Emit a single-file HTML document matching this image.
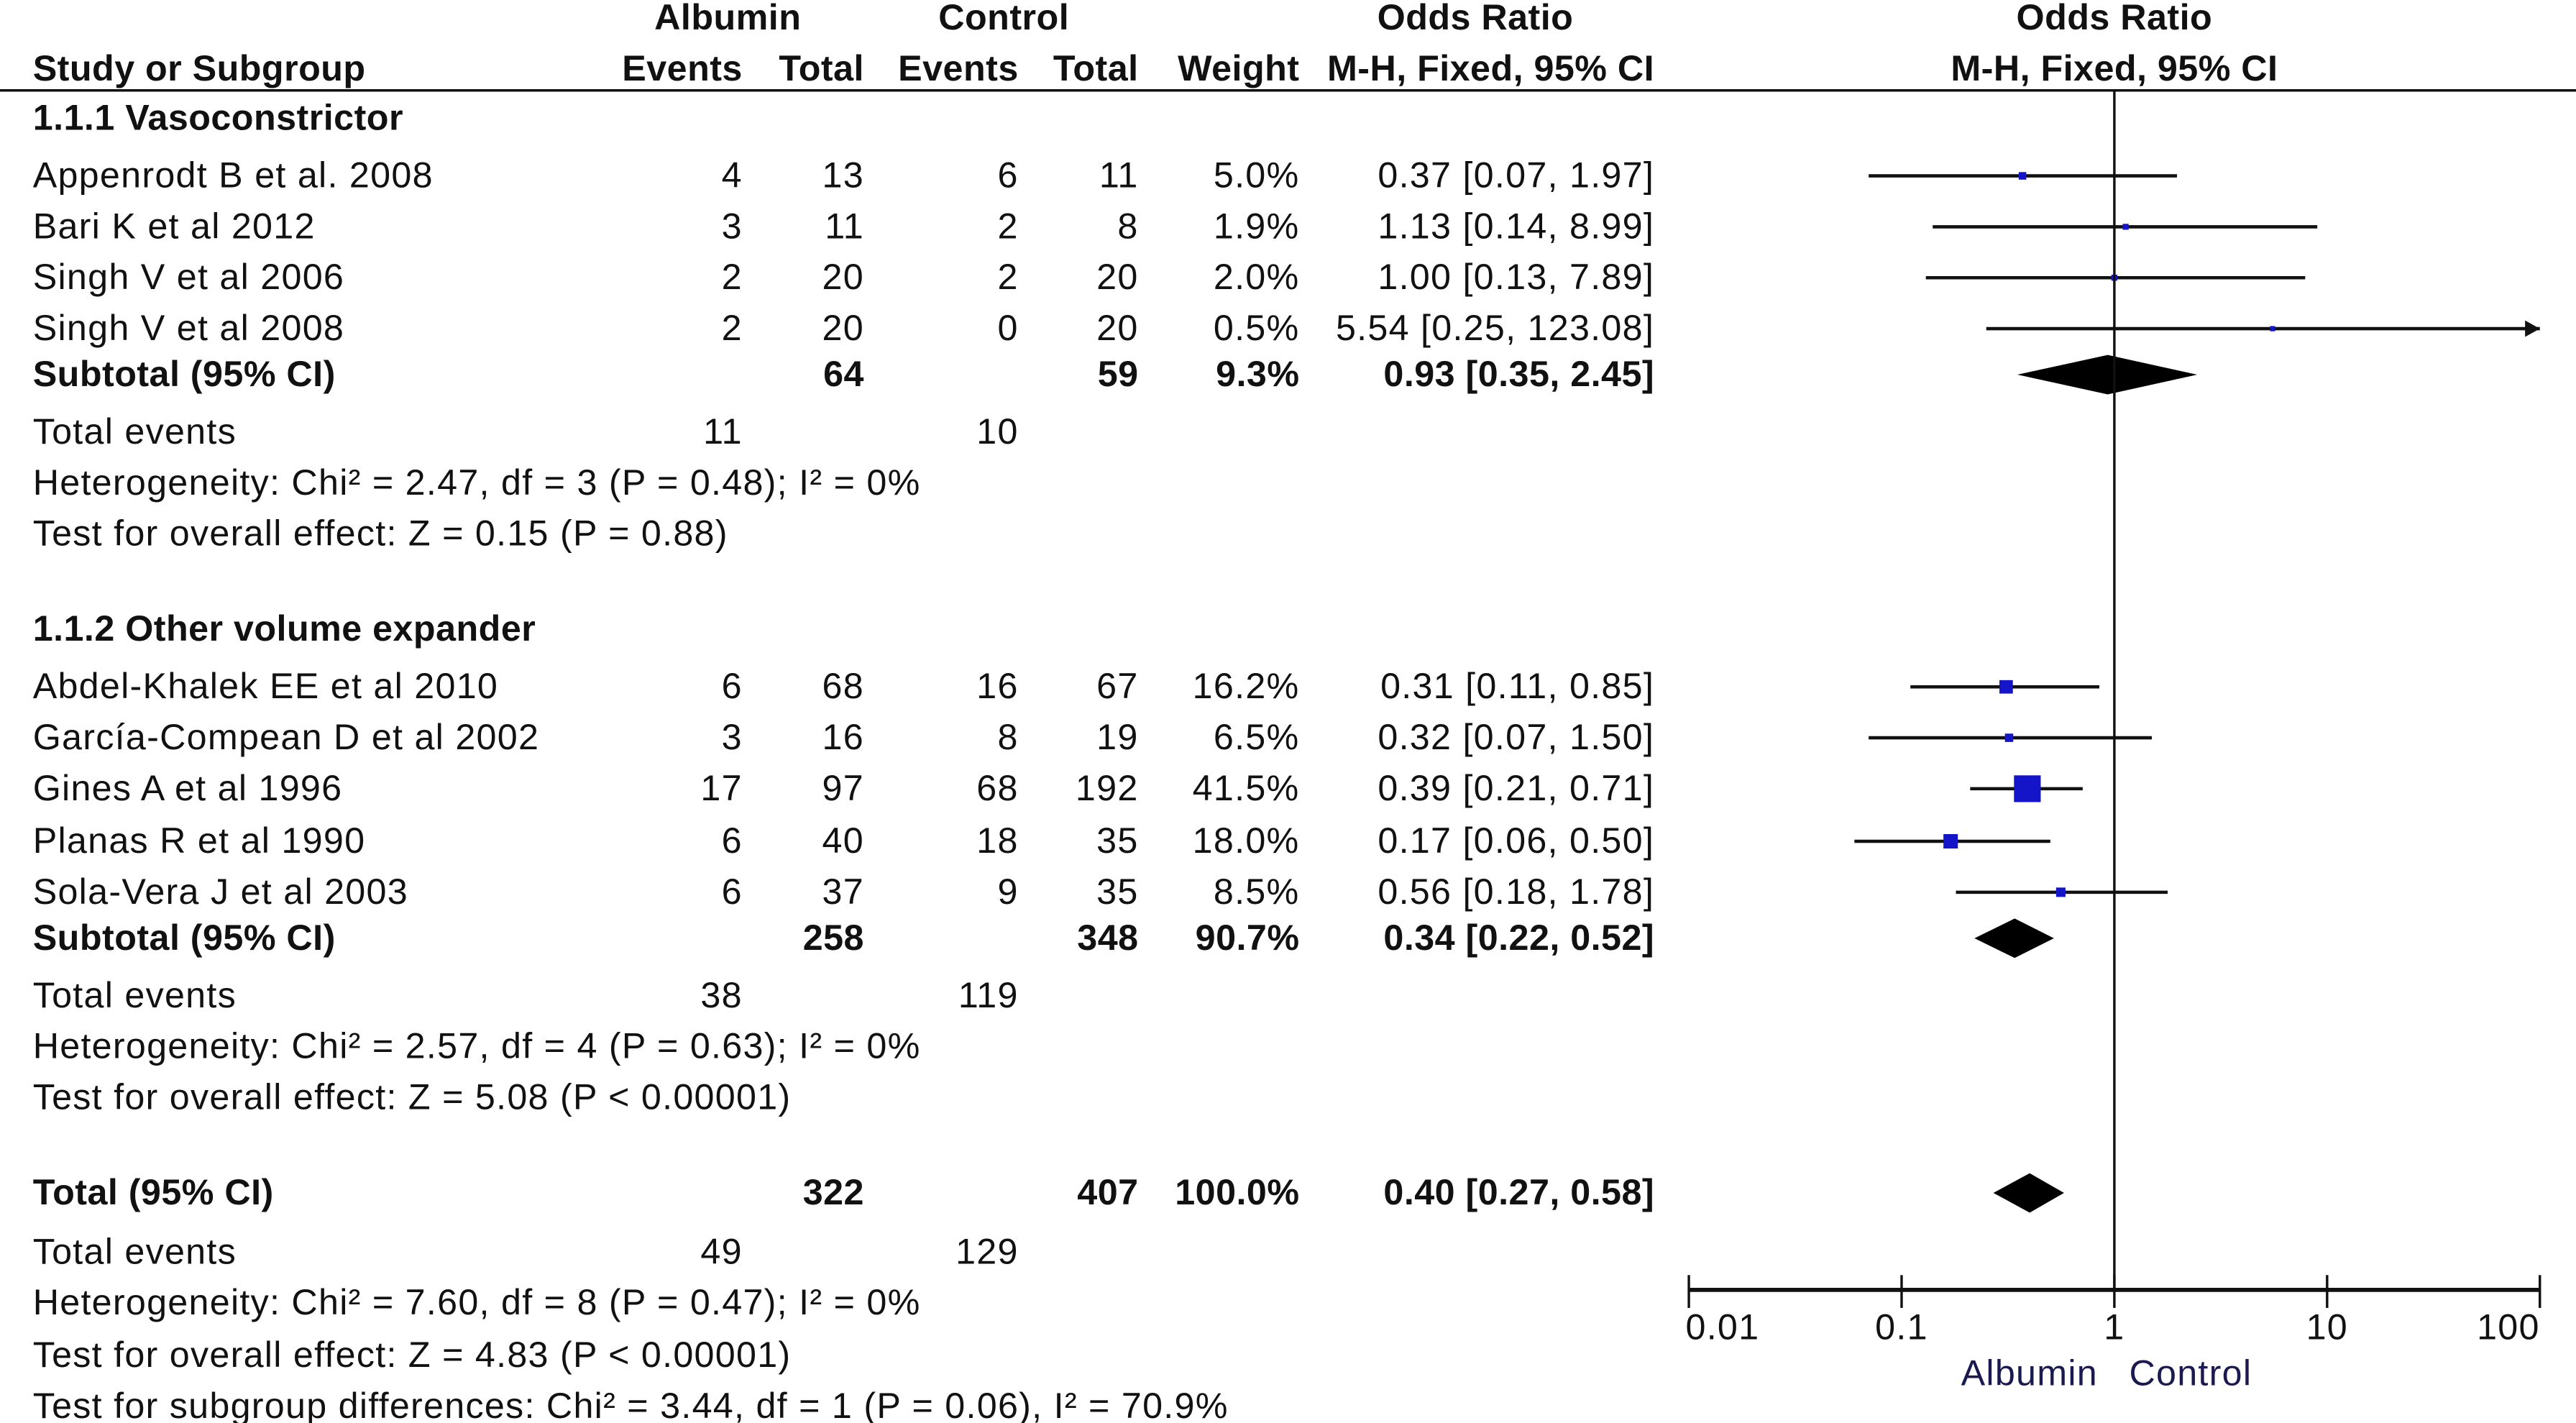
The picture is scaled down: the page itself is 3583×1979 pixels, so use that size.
<!DOCTYPE html>
<html><head><meta charset="utf-8"><style>
html,body{margin:0;padding:0;background:#fff}
svg{display:block}
text{font-family:"Liberation Sans",Arial,sans-serif;font-size:22px;letter-spacing:0.55px;fill:#111}
.b{font-weight:bold;letter-spacing:0.2px}
</style></head><body>
<svg id="chart" width="3583" height="1979" viewBox="0 0 1568 866" xmlns="http://www.w3.org/2000/svg">
<g>
<text class="b" x="443" y="18" text-anchor="middle">Albumin</text>
<text class="b" x="611" y="18" text-anchor="middle">Control</text>
<text class="b" x="898" y="18" text-anchor="middle">Odds Ratio</text>
<text class="b" x="1287" y="18" text-anchor="middle">Odds Ratio</text>
<text class="b" x="20" y="49">Study or Subgroup</text>
<text class="b" x="452" y="49" text-anchor="end">Events</text>
<text class="b" x="526" y="49" text-anchor="end">Total</text>
<text class="b" x="620" y="49" text-anchor="end">Events</text>
<text class="b" x="693" y="49" text-anchor="end">Total</text>
<text class="b" x="791" y="49" text-anchor="end">Weight</text>
<text class="b" x="1007" y="49" text-anchor="end">M-H, Fixed, 95% CI</text>
<text class="b" x="1287" y="49" text-anchor="middle">M-H, Fixed, 95% CI</text>
</g>
<line x1="0" y1="55" x2="1568" y2="55" stroke="#111" stroke-width="1.5"/>
<g id="rows"></g>
<g id="plot"></g>
</svg>
<script>
const studies=["Appenrodt B et al. 2008","Bari K et al 2012","Singh V et al 2006","Singh V et al 2008","Abdel-Khalek EE et al 2010","García-Compean D et al 2002","Gines A et al 1996","Planas R et al 1990","Sola-Vera J et al 2003"];
const studyY=[107,138,169,200,418,449,480,512,543];
const albEvents=[4,3,2,2,6,3,17,6,6];
const albTotal=[13,11,20,20,68,16,97,40,37];
const ctlEvents=[6,2,2,0,16,8,68,18,9];
const ctlTotal=[11,8,20,20,67,19,192,35,35];
const weights=[5.0,1.9,2.0,0.5,16.2,6.5,41.5,18.0,8.5];
const orVal=[0.37,1.13,1.00,5.54,0.31,0.32,0.39,0.17,0.56];
const orLo=[0.07,0.14,0.13,0.25,0.11,0.07,0.21,0.06,0.18];
const orHi=[1.97,8.99,7.89,123.08,0.85,1.50,0.71,0.50,1.78];
const sumLabels=["Subtotal (95% CI)","Subtotal (95% CI)","Total (95% CI)"];
const sumY=[228,571,726];
const sumAlb=[64,258,322];
const sumCtl=[59,348,407];
const sumW=["9.3%","90.7%","100.0%"];
const sumOR=[0.93,0.34,0.40];
const sumLo=[0.35,0.22,0.27];
const sumHi=[2.45,0.52,0.58];
const ticks=[0.01,0.1,1,10,100];
const tickLabels=["0.01","0.1","1","10","100"];

const NS="http://www.w3.org/2000/svg";
const rows=document.getElementById('rows'),plot=document.getElementById('plot');
function mk(tag,attrs,parent,txt){const e=document.createElementNS(NS,tag);for(const k in attrs)e.setAttribute(k,attrs[k]);if(txt!==undefined)e.textContent=txt;parent.appendChild(e);return e;}
function t(x,y,s,anchor,bold,name){const e=mk('text',{x:x,y:y+7,'text-anchor':anchor||'start'},rows,s);if(bold)e.setAttribute('class','b');


return e;}
const f2=v=>v.toFixed(2);
const X0=1287,DEC=129.5,XMIN=1028,XMAX=1546;
const xs=v=>X0+DEC*Math.log10(v);

const extra=[[72,"1.1.1 Vasoconstrictor",true],[383,"1.1.2 Other volume expander",true],
[294,"Heterogeneity: Chi² = 2.47, df = 3 (P = 0.48); I² = 0%"],[325,"Test for overall effect: Z = 0.15 (P = 0.88)"],
[637,"Heterogeneity: Chi² = 2.57, df = 4 (P = 0.63); I² = 0%"],[668,"Test for overall effect: Z = 5.08 (P < 0.00001)"],
[793,"Heterogeneity: Chi² = 7.60, df = 8 (P = 0.47); I² = 0%"],[825,"Test for overall effect: Z = 4.83 (P < 0.00001)"],
[856,"Test for subgroup differences: Chi² = 3.44, df = 1 (P = 0.06), I² = 70.9%"]];
extra.forEach(r=>t(20,r[0],r[1],'start',!!r[2],'row-label'));
[[263,11,10],[606,38,119],[762,49,129]].forEach(r=>{t(20,r[0],"Total events",'start',false,'total-events-label');t(452,r[0],r[1],'end',false,'total-events-albumin');t(620,r[0],r[2],'end',false,'total-events-control');});

studies.forEach((s,i)=>{const y=studyY[i];
t(20,y,s,'start',false,'study-name');
t(452,y,albEvents[i],'end',false,'albumin-events');
t(526,y,albTotal[i],'end',false,'albumin-total');
t(620,y,ctlEvents[i],'end',false,'control-events');
t(693,y,ctlTotal[i],'end',false,'control-total');
t(791,y,weights[i].toFixed(1)+"%",'end',false,'weight');
t(1007,y,f2(orVal[i])+" ["+f2(orLo[i])+", "+f2(orHi[i])+"]",'end',false,'odds-ratio-ci');
const x1=Math.max(XMIN,xs(orLo[i])),x2=Math.min(XMAX,xs(orHi[i]));
const l=mk('line',{x1:x1,y1:y,x2:x2,y2:y,stroke:'#111','stroke-width':2},plot);


if(xs(orHi[i])>XMAX){const a=mk('polygon',{points:`${XMAX},${y} ${XMAX-9},${y-5} ${XMAX-9},${y+5}`,fill:'#111'},plot);

}
const sz=3+0.32*weights[i],cx=xs(orVal[i]);
const r=mk('rect',{x:cx-sz/2,y:y-sz/2,width:sz,height:sz,fill:'#1414c8'},plot);


});
sumLabels.forEach((s,i)=>{const y=sumY[i];
t(20,y,s,'start',true,'summary-label');
t(526,y,sumAlb[i],'end',true,'summary-albumin-total');
t(693,y,sumCtl[i],'end',true,'summary-control-total');
t(791,y,sumW[i],'end',true,'summary-weight');
t(1007,y,f2(sumOR[i])+" ["+f2(sumLo[i])+", "+f2(sumHi[i])+"]",'end',true,'summary-odds-ratio');
const d=mk('polygon',{points:`${xs(sumLo[i])},${y} ${xs(sumOR[i])},${y-12} ${xs(sumHi[i])},${y} ${xs(sumOR[i])},${y+12}`,fill:'#000'},plot);


});
const vl=mk('line',{x1:X0,y1:55,x2:X0,y2:785,stroke:'#111','stroke-width':1.5},plot);


const ax=mk('line',{x1:XMIN,y1:785,x2:XMAX,y2:785,stroke:'#111','stroke-width':2.5},plot);


ticks.forEach((v,i)=>{const x=xs(v);
const tk=mk('line',{x1:x,y1:776,x2:x,y2:796,stroke:'#111','stroke-width':1.5},plot);


const anc=i==0?'start':(i==ticks.length-1?'end':'middle');
const lb=mk('text',{x:x+(i==0?-2:0),y:815,'text-anchor':anc},plot,tickLabels[i]);


});
const fa=mk('text',{x:1277,y:843,'text-anchor':'end',style:'fill:#1a1a50'},plot,"Albumin");


const fc=mk('text',{x:1296,y:843,'text-anchor':'start',style:'fill:#1a1a50'},plot,"Control");


</script>
</body></html>
